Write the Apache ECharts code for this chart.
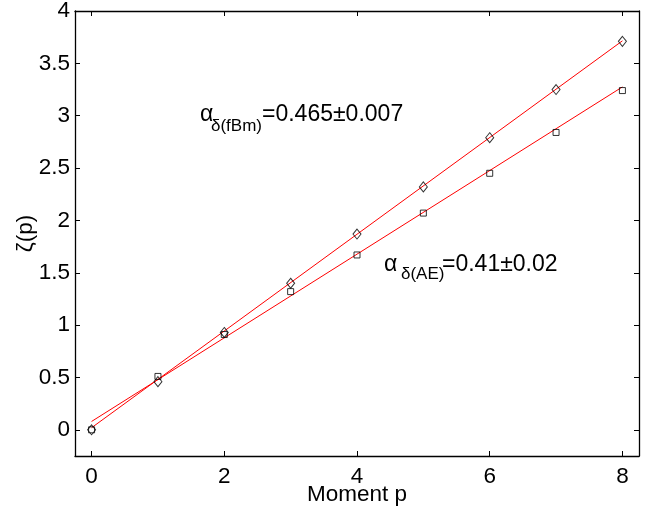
<!DOCTYPE html>
<html><head><meta charset="utf-8">
<script src="https://cdn.jsdelivr.net/npm/echarts@6/dist/echarts.min.js"></script>
<style>html,body{margin:0;padding:0;background:#fff}#c{width:654px;height:512px}</style>
</head><body><div id="c"></div>
<script>
var moments = [0,1,2,3,4,5,6,7,8];
var zetaFbm = [0,0.46,0.93,1.40,1.87,2.32,2.79,3.25,3.71];
var zetaAE  = [0,0.51,0.91,1.32,1.67,2.07,2.45,2.84,3.24];
var fitFbm = [[0,0.02],[8,3.715]];
var fitAE  = [[0,0.08],[8,3.275]];
var xTicks = [0,2,4,6,8];
var yTicks = [0,0.5,1,1.5,2,2.5,3,3.5,4];

var FONT = '"Liberation Sans", Arial, Helvetica, sans-serif';
function pairs(xs, ys){ return xs.map(function(x,i){return [x, ys[i]];}); }
function yLab(v){ return String(v); }

var chart = echarts.init(document.getElementById('c'));
var axLine = {show:true, onZero:false, lineStyle:{color:'#000', width:1.3}};
var tick = function(vals){ return {show:true, inside:true, length:5, customValues:vals, lineStyle:{color:'#000', width:1}}; };
chart.setOption({
  animation:false,
  backgroundColor:'#fff',
  grid:{left:75, right:15, top:11, bottom:56, containLabel:false, outerBoundsMode:'none'},
  xAxis:[
    {type:'value', min:-0.25, max:8.25, position:'bottom',
     axisLine:axLine, splitLine:{show:false}, axisTick:tick(xTicks),
     axisLabel:{show:true, customValues:xTicks, color:'#000', fontSize:22.5, fontFamily:FONT, margin:9},
     name:'Moment p', nameLocation:'middle', nameGap:27, nameMoveOverlap:false,
     nameTextStyle:{color:'#000', fontSize:22.5, fontFamily:FONT}},
    {type:'value', min:-0.25, max:8.25, position:'top',
     axisLine:axLine, splitLine:{show:false}, axisTick:tick(xTicks),
     axisLabel:{show:false}}
  ],
  yAxis:[
    {type:'value', min:-0.25, max:4, position:'left',
     axisLine:axLine, splitLine:{show:false}, axisTick:tick(yTicks),
     axisLabel:{show:true, customValues:yTicks, formatter:yLab, color:'#000', fontSize:22.5, fontFamily:FONT, margin:5},
     name:'ζ(p)', nameLocation:'middle', nameGap:38, nameRotate:90, nameMoveOverlap:false,
     nameTextStyle:{color:'#000', fontSize:22.5, fontFamily:FONT}},
    {type:'value', min:-0.25, max:4, position:'right',
     axisLine:axLine, splitLine:{show:false}, axisTick:tick(yTicks),
     axisLabel:{show:false}}
  ],
  series:[
    {type:'line', data:fitFbm, showSymbol:false, lineStyle:{color:'#ff0000', width:1}, z:2},
    {type:'line', data:fitAE, showSymbol:false, lineStyle:{color:'#ff0000', width:1}, z:2},
    {type:'scatter', data:pairs(moments, zetaFbm), symbol:'diamond', symbolSize:[8,10],
     itemStyle:{color:'rgba(0,0,0,0)', borderColor:'#000', borderWidth:1}, z:3},
    {type:'scatter', data:pairs(moments, zetaAE), symbol:'rect', symbolSize:6,
     itemStyle:{color:'rgba(0,0,0,0)', borderColor:'#000', borderWidth:1}, z:3}
  ],
  graphic:[
    {type:'text', left:200, top:103, style:{text:'α', font:'23px '+FONT, fill:'#000'}},
    {type:'text', left:211, top:118, style:{text:'δ(fBm)', font:'17px '+FONT, fill:'#000'}},
    {type:'text', left:262, top:103, style:{text:'=0.465±0.007', font:'23px '+FONT, fill:'#000'}},
    {type:'text', left:384, top:253, style:{text:'α', font:'23px '+FONT, fill:'#000'}},
    {type:'text', left:401, top:266, style:{text:'δ(AE)', font:'17px '+FONT, fill:'#000'}},
    {type:'text', left:442, top:253, style:{text:'=0.41±0.02', font:'23px '+FONT, fill:'#000'}}
  ]
});
</script></body></html>
